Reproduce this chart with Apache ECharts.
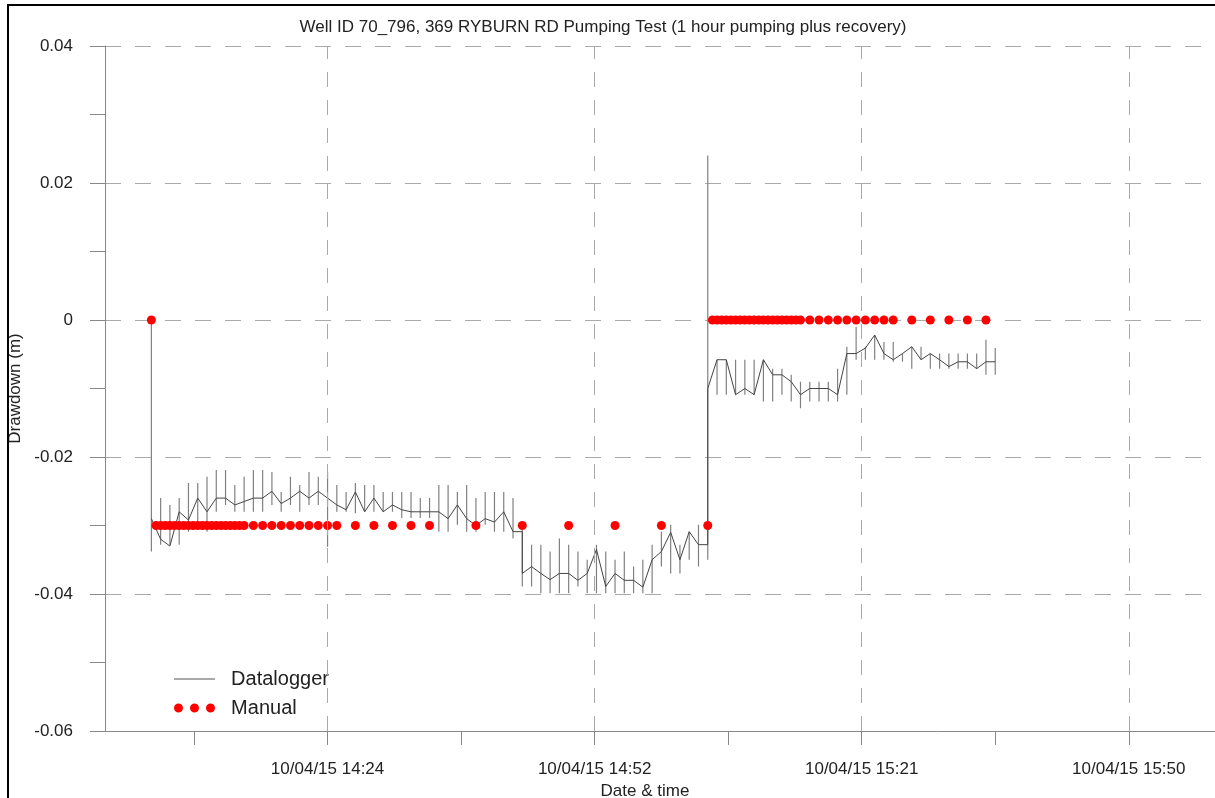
<!DOCTYPE html>
<html>
<head>
<meta charset="utf-8">
<script src="https://cdn.jsdelivr.net/npm/echarts@6/dist/echarts.min.js"></script>
<style>
html,body{margin:0;padding:0;background:#fff;}
#chart{width:1215px;height:798px;}
</style>
</head>
<body>
<div id="chart"></div>
<script>
// Time values are minutes after 10/04/15 14:00
const titleText = 'Well ID 70_796, 369 RYBURN RD Pumping Test (1 hour pumping plus recovery)';
const xMajorTicks = [24, 52.8, 81.6, 110.4];
const xMinorTicks = [9.6, 38.4, 67.2, 96];
const xMin = 0, xMax = 119.7;
const yTicks = [-0.06, -0.04, -0.02, 0, 0.02, 0.04];

// Datalogger: one reading cluster per minute (low / high of the cluster)
const barTime = [5,6,7,8,9,10,11,12,13,14,15,16,17,18,19,20,21,22,23,24,25,26,27,28,29,30,31,32,33,34,35,36,37,38,39,40,41,42,43,44,45,46,47,48,49,50,51,52,53,54,55,56,57,58,59,60,61,62,63,64,65,66,67,68,69,70,71,72,73,74,75,76,77,78,79,80,81,82,83,84,85,86,87,88,89,90,91,92,93,94,95,96];
const barLow = [-0.0338,-0.0328,-0.0328,-0.0328,-0.0309,-0.0299,-0.0309,-0.028,-0.027,-0.028,-0.028,-0.028,-0.028,-0.027,-0.028,-0.027,-0.028,-0.027,-0.027,-0.0331,-0.028,-0.028,-0.0282,-0.028,-0.028,-0.028,-0.028,-0.0289,-0.0289,-0.0289,-0.0289,-0.0309,-0.0309,-0.0299,-0.0309,-0.0309,-0.0299,-0.0309,-0.0309,-0.0319,-0.0389,-0.0389,-0.0399,-0.0399,-0.0399,-0.0399,-0.0389,-0.0399,-0.0399,-0.0399,-0.0399,-0.0399,-0.0399,-0.0399,-0.0399,-0.036,-0.037,-0.037,-0.035,-0.036,-0.035,-0.0109,-0.0109,-0.0109,-0.0109,-0.0109,-0.0119,-0.0119,-0.0109,-0.0119,-0.0129,-0.0119,-0.0119,-0.0119,-0.0119,-0.0109,-0.0058,-0.0058,-0.0058,-0.0058,-0.0061,-0.0061,-0.0071,-0.0058,-0.0071,-0.0071,-0.0071,-0.0071,-0.0071,-0.0071,-0.008,-0.008];
const barHigh = [0,-0.026,-0.027,-0.026,-0.0238,-0.0238,-0.0229,-0.0219,-0.0219,-0.0241,-0.0229,-0.0219,-0.0219,-0.0222,-0.0251,-0.0229,-0.0241,-0.0222,-0.0229,-0.0222,-0.0241,-0.0251,-0.0238,-0.0241,-0.0241,-0.0251,-0.0251,-0.0251,-0.0251,-0.026,-0.026,-0.0241,-0.0241,-0.0251,-0.0241,-0.026,-0.0251,-0.0251,-0.0251,-0.026,-0.0305,-0.0328,-0.0328,-0.0338,-0.0319,-0.0328,-0.0338,-0.035,-0.0328,-0.0338,-0.035,-0.0338,-0.036,-0.035,-0.0328,-0.0309,-0.0299,-0.0328,-0.0309,-0.0299,0.024,-0.0058,-0.0058,-0.0058,-0.0058,-0.0058,-0.0058,-0.0071,-0.0071,-0.008,-0.009,-0.009,-0.009,-0.009,-0.0071,-0.0039,-0.001,-0.0039,-0.0022,-0.0032,-0.0032,-0.0049,-0.0039,-0.0039,-0.0049,-0.0049,-0.0049,-0.0049,-0.0049,-0.0049,-0.0029,-0.0041];

// Datalogger trace connecting the clusters
const lineTime = [5,6,7,8,9,10,11,12,13,14,15,16,17,18,19,20,21,22,23,24,25,26,27,28,29,30,31,32,33,34,35,36,37,38,39,40,41,42,43,44,45,45,46,47,48,49,50,51,52,53,54,55,56,57,58,59,60,61,62,63,64,65,65,66,67,68,69,70,71,72,73,74,75,76,77,78,79,80,81,82,83,84,85,86,87,88,89,90,91,92,93,94,95,96];
const lineValue = [-0.029,-0.032,-0.033,-0.028,-0.0292,-0.026,-0.028,-0.026,-0.026,-0.027,-0.0265,-0.026,-0.026,-0.025,-0.0268,-0.026,-0.025,-0.026,-0.025,-0.026,-0.027,-0.0277,-0.0251,-0.028,-0.026,-0.028,-0.027,-0.0277,-0.028,-0.028,-0.028,-0.028,-0.029,-0.027,-0.029,-0.030,-0.029,-0.0295,-0.028,-0.0309,-0.0309,-0.037,-0.036,-0.037,-0.0379,-0.037,-0.037,-0.038,-0.037,-0.0335,-0.0389,-0.037,-0.038,-0.038,-0.039,-0.035,-0.0338,-0.031,-0.035,-0.0309,-0.0328,-0.0328,-0.010,-0.0058,-0.0058,-0.0109,-0.010,-0.0109,-0.0058,-0.008,-0.008,-0.009,-0.0109,-0.010,-0.010,-0.010,-0.0109,-0.0049,-0.0049,-0.0041,-0.0022,-0.0049,-0.0058,-0.0049,-0.0039,-0.0058,-0.0049,-0.0058,-0.0068,-0.0061,-0.0061,-0.0071,-0.0061,-0.0061];

// Manual readings
const manualTime = [5,5.5,6,6.5,7,7.5,8,8.5,9,9.5,10,10.5,11,11.5,12,12.5,13,13.5,14,14.5,15,16,17,18,19,20,21,22,23,24,25,27,29,31,33,35,40,45,50,55,60,65,65.5,66,66.5,67,67.5,68,68.5,69,69.5,70,70.5,71,71.5,72,72.5,73,73.5,74,74.5,75,76,77,78,79,80,81,82,83,84,85,87,89,91,93,95];
const manualValue = [0,-0.03,-0.03,-0.03,-0.03,-0.03,-0.03,-0.03,-0.03,-0.03,-0.03,-0.03,-0.03,-0.03,-0.03,-0.03,-0.03,-0.03,-0.03,-0.03,-0.03,-0.03,-0.03,-0.03,-0.03,-0.03,-0.03,-0.03,-0.03,-0.03,-0.03,-0.03,-0.03,-0.03,-0.03,-0.03,-0.03,-0.03,-0.03,-0.03,-0.03,-0.03,0,0,0,0,0,0,0,0,0,0,0,0,0,0,0,0,0,0,0,0,0,0,0,0,0,0,0,0,0,0,0,0,0,0,0];

const FONT = 'Liberation Sans, Arial, sans-serif';
const baseMinutes = 14 * 60;

function fmtTime(v) {
  const tot = baseMinutes + v;
  const h = Math.floor(tot / 60);
  const m = Math.floor(tot - h * 60 + 1e-6);
  return '10/04/15 ' + h + ':' + (m < 10 ? '0' + m : m);
}

const barData = [];
barTime.forEach((t, i) => {
  barData.push([t, barLow[i]], [t, barHigh[i]], [t, '-']);
});
const lineData = lineTime.map((t, i) => [t, lineValue[i]]);
const manualData = manualTime.map((t, i) => [t, manualValue[i]]);

const chart = echarts.init(document.getElementById('chart'), null, {renderer: 'canvas'});
chart.setOption({
  animation: false,
  backgroundColor: '#fff',
  textStyle: {fontFamily: FONT},
  title: {
    text: titleText,
    left: 598, top: 14, textAlign: 'center',
    textStyle: {fontFamily: FONT, fontSize: 17, fontWeight: 'normal', color: '#222'}
  },
  graphic: [{
    type: 'rect', silent: true, z: 100,
    shape: {x: 8, y: 5, width: 1400, height: 1000},
    style: {fill: 'none', stroke: '#000', lineWidth: 2}
  }],
  legend: {
    orient: 'vertical', left: 169, top: 664,
    itemWidth: 41, itemHeight: 9, itemGap: 9,
    symbolKeepAspect: true,
    formatter: n => '  ' + n,
    textStyle: {fontFamily: FONT, fontSize: 20, color: '#222'},
    data: [
      {name: 'Datalogger', icon: 'path://M0,0L37,0L37,1L0,1Z', itemStyle: {color: '#555'}},
      {name: 'Manual', icon: 'path://M0,4.5a4.5,4.5 0 1,0 9,0a4.5,4.5 0 1,0 -9,0ZM16,4.5a4.5,4.5 0 1,0 9,0a4.5,4.5 0 1,0 -9,0ZM32,4.5a4.5,4.5 0 1,0 9,0a4.5,4.5 0 1,0 -9,0Z', itemStyle: {color: '#ff0000'}}
    ]
  },
  grid: {left: 105, right: 0, top: 46, bottom: 67, containLabel: false, outerBoundsMode: 'none'},
  xAxis: {
    type: 'value', min: xMin, max: xMax,
    name: 'Date & time', nameLocation: 'middle', nameGap: 48,
    nameTextStyle: {fontFamily: FONT, fontSize: 17, color: '#222', padding: [0, 30, 0, 0]},
    axisLine: {show: true, onZero: false, lineStyle: {color: '#888', width: 1}},
    axisTick: {show: true, length: 14, customValues: xMinorTicks.concat(xMajorTicks), lineStyle: {color: '#888'}},
    axisLabel: {show: true, customValues: xMajorTicks, margin: 30, formatter: fmtTime,
      fontFamily: FONT, fontSize: 17, color: '#222'},
    splitLine: {show: false}
  },
  yAxis: {
    type: 'value', min: yTicks[0], max: yTicks[yTicks.length - 1], interval: 0.02,
    name: 'Drawdown (m)', nameLocation: 'middle', nameGap: 71,
    nameTextStyle: {fontFamily: FONT, fontSize: 17, color: '#222'},
    axisLine: {show: true, lineStyle: {color: '#888', width: 1}},
    axisTick: {show: true, length: 15, lineStyle: {color: '#888'}},
    minorTick: {show: true, splitNumber: 2, length: 15, lineStyle: {color: '#888'}},
    axisLabel: {margin: 32, fontFamily: FONT, fontSize: 17, color: '#222',
      formatter: v => Math.abs(v) < 1e-9 ? '0' : v.toFixed(2)},
    splitLine: {show: true, lineStyle: {color: '#aaa', width: 1, type: [16, 14]}}
  },
  series: [
    {
      name: 'Datalogger', type: 'line', data: barData, showSymbol: false, symbol: 'none',
      connectNulls: false, z: 2,
      itemStyle: {color: '#555'},
      lineStyle: {color: '#808080', width: 1.2},
      markLine: {
        silent: true, symbol: 'none', label: {show: false},
        lineStyle: {color: '#aaa', width: 1, type: [15, 13]},
        data: xMajorTicks.map(v => ({xAxis: v}))
      }
    },
    {
      name: 'Datalogger', type: 'line', data: lineData, showSymbol: false, symbol: 'none', z: 3,
      itemStyle: {color: '#555'},
      lineStyle: {color: '#444', width: 1}
    },
    {
      name: 'Manual', type: 'scatter', data: manualData, symbol: 'circle', symbolSize: 9, z: 4,
      itemStyle: {color: '#ff0000', opacity: 1}
    }
  ]
});
</script>
</body>
</html>
